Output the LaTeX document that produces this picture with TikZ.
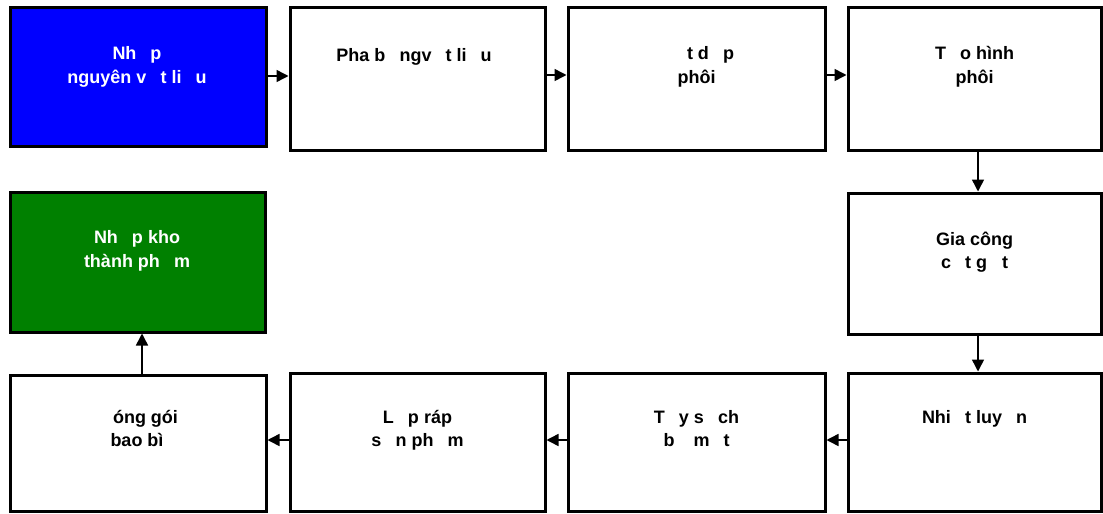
\documentclass[tikz,border=0pt]{standalone}
\usepackage{fontspec}
\setmainfont{Liberation Sans}
\usetikzlibrary{arrows.meta}
\newcommand{\gp}[1]{\phantom{#1}\hspace{4pt}}
\newcommand{\vlines}[1]{\begin{tabular}[t]{@{}c@{}}#1\end{tabular}}
\begin{document}
\begin{tikzpicture}[x=1pt,y=-1pt,
  stepbox/.style={draw=black,line width=3pt,fill=white,inner sep=0pt},
  lbl/.style={font=\fontsize{18}{23.6}\selectfont\bfseries,anchor=base,inner sep=0pt},
  conn/.style={line width=1.5pt,-{Triangle[length=12pt,width=12pt]}}]
\useasboundingbox (0,0) rectangle (1103,514);
% boxes
\node[stepbox,fill=blue,minimum width=256pt,minimum height=139pt] (b1) at (138,76.5) {};
\node[stepbox,minimum width=255pt,minimum height=143pt] (b2) at (417.5,78.5) {};
\node[stepbox,minimum width=257pt,minimum height=143pt] (b3) at (696.5,78.5) {};
\node[stepbox,minimum width=253pt,minimum height=143pt] (b4) at (974.5,78.5) {};
\node[stepbox,minimum width=253pt,minimum height=141pt] (b5) at (974.5,263.5) {};
\node[stepbox,minimum width=253pt,minimum height=138pt] (b6) at (974.5,442) {};
\node[stepbox,minimum width=257pt,minimum height=138pt] (b7) at (696.5,442) {};
\node[stepbox,minimum width=255pt,minimum height=138pt] (b8) at (417.5,442) {};
\node[stepbox,minimum width=256pt,minimum height=136pt] (b9) at (138,443) {};
\node[stepbox,fill=green!50!black,minimum width=255pt,minimum height=140pt] (b10) at (137.5,262) {};
% labels
\node[lbl,text=white] (t1) at (137,59.5) {\vlines{Nh\gp{ậ}p\\nguyên v\gp{ậ}t li\gp{ệ}u}};
\node[lbl] (t2) at (414,61) {\vlines{Pha b\gp{ă}ngv\gp{ậ}t li\gp{ệ}u}};
\node[lbl] (t3) at (696.5,59.5) {\vlines{\gp{Độ}t d\gp{ậ}p\\phôi\hspace{5pt}}};
\node[lbl] (t4) at (974.5,59.5) {\vlines{T\gp{ạ}o hình\\phôi}};
\node[lbl] (t5) at (974.5,245) {\vlines{Gia công\\c\gp{ắ}t g\gp{ọ}t}};
\node[lbl] (t6) at (974.5,423) {\vlines{Nhi\gp{ệ}t luy\gp{ệ}n}};
\node[lbl] (t7) at (696.5,423) {\vlines{T\gp{ẩ}y s\gp{ạ}ch\\b\gp{ề} m\gp{ặ}t}};
\node[lbl] (t8) at (417.5,423) {\vlines{L\gp{ắ}p ráp\\s\gp{ả}n ph\gp{ẩ}m}};
\node[lbl] (t9) at (137,423) {\vlines{\gp{Đ}óng gói\\bao bì}};
\node[lbl,text=white] (t10) at (137,243.5) {\vlines{Nh\gp{ậ}p kho\\thành ph\gp{ẩ}m}};
% connectors
\draw[conn] ([yshift=0.5pt]b1.east) -- ([yshift=0.5pt]b1.east -| b2.west);
\draw[conn] ([yshift=3.5pt]b2.east) -- ([yshift=3.5pt]b2.east -| b3.west);
\draw[conn] ([yshift=3.5pt]b3.east) -- ([yshift=3.5pt]b3.east -| b4.west);
\draw[conn] ([xshift=3.5pt]b4.south) -- ([xshift=3.5pt]b5.north);
\draw[conn] ([xshift=3.5pt]b5.south) -- ([xshift=3.5pt]b6.north);
\draw[conn] ([yshift=2pt]b6.west) -- ([yshift=2pt]b6.west -| b7.east);
\draw[conn] ([yshift=2pt]b7.west) -- ([yshift=2pt]b7.west -| b8.east);
\draw[conn] ([yshift=2pt]b8.west) -- ([yshift=2pt]b8.west -| b9.east);
\draw[conn] ([xshift=4pt]b9.north) -- ([xshift=4pt]b9.north |- b10.south);
\end{tikzpicture}
\end{document}
